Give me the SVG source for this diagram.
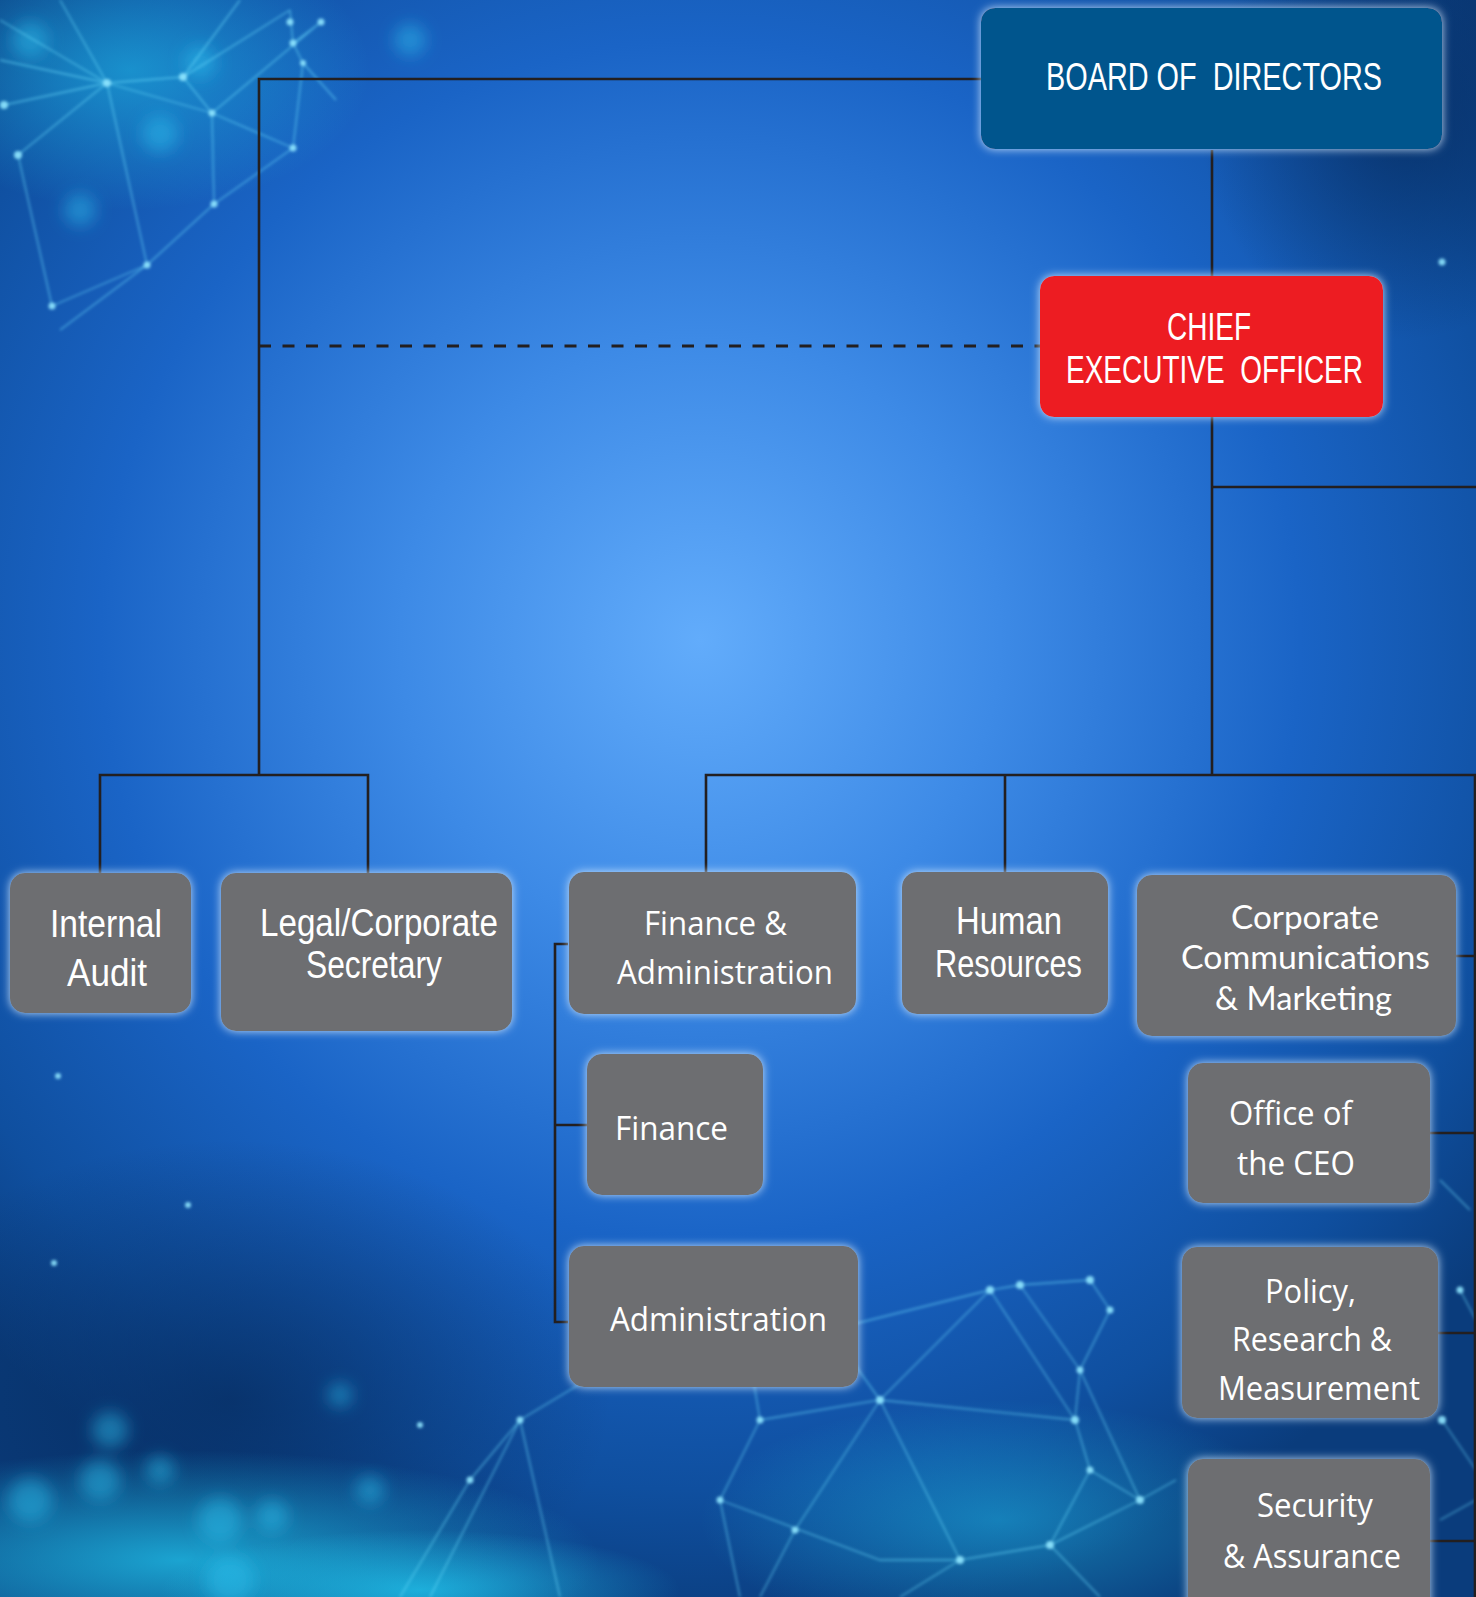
<svg xmlns="http://www.w3.org/2000/svg" width="1476" height="1597" viewBox="0 0 1476 1597">
<defs>
  <radialGradient id="bg" cx="700" cy="640" r="1000" gradientUnits="userSpaceOnUse">
    <stop offset="0" stop-color="#62acfb"/>
    <stop offset="0.3" stop-color="#3d8ae6"/>
    <stop offset="0.6" stop-color="#1a64c6"/>
    <stop offset="0.85" stop-color="#0f4f9f"/>
    <stop offset="1" stop-color="#0a3c7c"/>
  </radialGradient>
  <radialGradient id="cyanGlow" cx="0.5" cy="0.5" r="0.5">
    <stop offset="0" stop-color="#21c8f0" stop-opacity="0.75"/>
    <stop offset="1" stop-color="#21c8f0" stop-opacity="0"/>
  </radialGradient>
  <radialGradient id="darkShade" cx="0.5" cy="0.5" r="0.5">
    <stop offset="0" stop-color="#062a5c" stop-opacity="0.7"/>
    <stop offset="1" stop-color="#062a5c" stop-opacity="0"/>
  </radialGradient>
  <filter id="glow" x="-20%" y="-20%" width="140%" height="140%">
    <feGaussianBlur in="SourceAlpha" stdDeviation="5" result="b"/>
    <feFlood flood-color="#d8ecff" flood-opacity="0.9"/>
    <feComposite in2="b" operator="in" result="g"/>
    <feMerge><feMergeNode in="g"/><feMergeNode in="SourceGraphic"/></feMerge>
  </filter>
  <filter id="soft" x="-50%" y="-50%" width="200%" height="200%">
    <feGaussianBlur stdDeviation="1.5"/>
  </filter>
  <filter id="bokeh" x="-50%" y="-50%" width="200%" height="200%">
    <feGaussianBlur stdDeviation="8"/>
  </filter>
  <style>
    .box{fill:#6d6e71;filter:url(#glow)}
    .board{fill:#03548d;filter:url(#glow)}
    .ceo{fill:#ed1c24;filter:url(#glow)}
    .t{fill:#ffffff;font-family:"Open Sans","Noto Sans","Liberation Sans",sans-serif;font-size:33px}
    .l{fill:#ffffff;font-family:Lato,"Open Sans","Liberation Sans",sans-serif;font-size:32px}
    .n{fill:#ffffff;font-family:"Liberation Sans Narrow","Liberation Sans","DejaVu Sans Condensed",sans-serif;font-size:38px}
    .c{text-anchor:middle}
    .conn{fill:none;stroke:#231f20;stroke-width:2.6}
    .dash{fill:none;stroke:#231f20;stroke-width:2.8;stroke-dasharray:12 11.5}
    .pl{stroke:#6ee0ff;stroke-width:1.3;stroke-opacity:0.6;fill:none}
    .pd{fill:#8fe6ff;fill-opacity:0.9}
    .bk{fill:#2cc6f2;fill-opacity:0.45}
  </style>
</defs>

<!-- background -->
<rect x="0" y="0" width="1476" height="1597" fill="url(#bg)"/>
<ellipse cx="230" cy="1400" rx="380" ry="260" fill="url(#darkShade)"/>
<ellipse cx="1400" cy="120" rx="200" ry="220" fill="url(#darkShade)"/>
<ellipse cx="180" cy="1560" rx="420" ry="110" fill="url(#cyanGlow)"/>
<ellipse cx="420" cy="1590" rx="260" ry="60" fill="url(#cyanGlow)"/>
<ellipse cx="1000" cy="1520" rx="300" ry="120" fill="url(#cyanGlow)" opacity="0.6"/>
<ellipse cx="130" cy="70" rx="240" ry="140" fill="url(#cyanGlow)" opacity="0.7"/>

<g id="bokeh-dots" filter="url(#bokeh)">
  <circle class="bk" cx="30" cy="1500" r="22"/><circle class="bk" cx="100" cy="1480" r="20"/>
  <circle class="bk" cx="220" cy="1520" r="22"/><circle class="bk" cx="110" cy="1430" r="18"/>
  <circle class="bk" cx="160" cy="1470" r="14"/><circle class="bk" cx="272" cy="1516" r="16"/>
  <circle class="bk" cx="230" cy="1580" r="24"/><circle class="bk" cx="160" cy="134" r="18"/>
  <circle class="bk" cx="200" cy="62" r="16"/><circle class="bk" cx="30" cy="40" r="18"/>
  <circle class="bk" cx="80" cy="210" r="16"/><circle class="bk" cx="410" cy="40" r="16"/>
  <circle class="bk" cx="340" cy="1395" r="12"/><circle class="bk" cx="370" cy="1490" r="14"/>
</g>

<g id="plexus" filter="url(#soft)">
  <path class="pl" d="M0,60 L107,83 L183,77 L290,10 M107,83 L212,113 L293,148 M107,83 L18,155 L52,306 M107,83 L147,265 L214,204 L293,148 M183,77 L212,113 L214,204 M290,10 L293,43 L303,63 L293,148 M321,22 L293,43 M336,100 L303,63 M4,105 L107,83 M52,306 L147,265 M0,20 L107,83 M212,113 L321,22 M147,265 L60,330 M183,77 L240,0 M107,83 L60,0"/>
  <g class="pd">
    <circle cx="107" cy="83" r="4"/><circle cx="183" cy="77" r="4"/><circle cx="212" cy="113" r="3.5"/>
    <circle cx="18" cy="155" r="4"/><circle cx="4" cy="105" r="4"/><circle cx="147" cy="265" r="3.5"/>
    <circle cx="290" cy="22" r="3.5"/><circle cx="321" cy="22" r="3.5"/><circle cx="293" cy="43" r="3.5"/>
    <circle cx="303" cy="63" r="3"/><circle cx="293" cy="148" r="3.5"/><circle cx="214" cy="204" r="3.5"/>
    <circle cx="52" cy="306" r="3.5"/><circle cx="1442" cy="262" r="3.5"/><circle cx="58" cy="1076" r="3"/>
    <circle cx="54" cy="1263" r="3"/><circle cx="188" cy="1205" r="3"/>
  </g>
  <path class="pl" d="M400,1597 L470,1480 L520,1420 L620,1360 L680,1330 L745,1320 M520,1420 L430,1597 M520,1420 L560,1597 M745,1330 L760,1420 L720,1500 L740,1597 M760,1420 L880,1400 L990,1290 L1020,1285 L1090,1280 L1110,1310 L1080,1370 L1075,1420 L1090,1470 L1140,1500 M880,1400 L830,1330 L990,1290 M880,1400 L960,1560 L1050,1545 L1140,1500 L1176,1480 M880,1400 L795,1530 L760,1597 M960,1560 L900,1597 M1050,1545 L1100,1597 M1090,1470 L1050,1545 M720,1500 L880,1560 L960,1560 M1020,1285 L1080,1370 L1140,1500 M990,1290 L1075,1420 M880,1400 L1075,1420 M1460,1290 L1476,1320 M1440,1180 L1470,1210 M1442,1420 L1476,1470 M1440,1520 L1476,1500"/>
  <g class="pd">
    <circle cx="990" cy="1290" r="4"/><circle cx="1020" cy="1285" r="4"/><circle cx="1090" cy="1280" r="4"/>
    <circle cx="1110" cy="1310" r="3.5"/><circle cx="1080" cy="1370" r="3.5"/><circle cx="1075" cy="1420" r="4"/>
    <circle cx="1090" cy="1470" r="3.5"/><circle cx="1140" cy="1500" r="4"/><circle cx="880" cy="1400" r="4"/>
    <circle cx="830" cy="1330" r="3"/><circle cx="960" cy="1560" r="4"/><circle cx="1050" cy="1545" r="4"/>
    <circle cx="795" cy="1530" r="3.5"/><circle cx="720" cy="1500" r="3.5"/><circle cx="760" cy="1420" r="3.5"/>
    <circle cx="520" cy="1420" r="3.5"/><circle cx="470" cy="1480" r="3.5"/><circle cx="1460" cy="1290" r="3.5"/>
    <circle cx="1442" cy="1420" r="4"/><circle cx="420" cy="1425" r="3"/><circle cx="680" cy="1330" r="3"/>
  </g>
</g>

<!-- connectors -->
<g id="connectors">
  <path class="conn" d="M981,79 H259 V775"/>
  <path class="conn" d="M100,873 V775 H368 V873"/>
  <path class="conn" d="M1212,150 V276"/>
  <path class="dash" d="M259,346 H1040"/>
  <path class="conn" d="M1212,417 V775"/>
  <path class="conn" d="M1212,487 H1476"/>
  <path class="conn" d="M706,872 V775 H1475 V1597"/>
  <path class="conn" d="M1005,775 V872"/>
  <path class="conn" d="M1456,956 H1475 M1430,1133 H1475 M1437,1333 H1475 M1430,1541 H1475"/>
  <path class="conn" d="M568,944 H555 V1322 H568 M555,1125 H587"/>
</g>

<!-- nodes -->
<g id="board">
  <rect class="board" x="981" y="8" width="461" height="141" rx="14"/>
  <text class="n c" x="1214" y="90" font-size="36" textLength="336" lengthAdjust="spacingAndGlyphs">BOARD OF&#160; DIRECTORS</text>
</g>
<g id="ceo">
  <rect class="ceo" x="1040" y="276" width="343" height="141" rx="14"/>
  <text class="n c" x="1209" y="340" font-size="39" textLength="84" lengthAdjust="spacingAndGlyphs">CHIEF</text>
  <text class="n c" x="1214.5" y="383" font-size="39" textLength="297" lengthAdjust="spacingAndGlyphs">EXECUTIVE&#160; OFFICER</text>
</g>
<g id="internal-audit">
  <rect class="box" x="10" y="873" width="181" height="140" rx="15"/>
  <text class="n" x="50" y="937" font-size="40" textLength="112" lengthAdjust="spacingAndGlyphs">Internal</text>
  <text class="n" x="67" y="986" font-size="40" textLength="80" lengthAdjust="spacingAndGlyphs">Audit</text>
</g>
<g id="legal">
  <rect class="box" x="221" y="873" width="291" height="158" rx="15"/>
  <text class="n" x="260" y="936" font-size="40" textLength="238" lengthAdjust="spacingAndGlyphs">Legal/Corporate</text>
  <text class="n" x="306" y="978" font-size="40" textLength="136" lengthAdjust="spacingAndGlyphs">Secretary</text>
</g>
<g id="finance-admin">
  <rect class="box" x="569" y="872" width="287" height="142" rx="15"/>
  <text class="t" x="644" y="935" textLength="143" lengthAdjust="spacingAndGlyphs">Finance &amp;</text>
  <text class="t" x="617" y="984" textLength="216" lengthAdjust="spacingAndGlyphs">Administration</text>
</g>
<g id="finance">
  <rect class="box" x="587" y="1054" width="176" height="141" rx="15"/>
  <text class="t" x="615" y="1140" textLength="113" lengthAdjust="spacingAndGlyphs">Finance</text>
</g>
<g id="administration">
  <rect class="box" x="569" y="1246" width="289" height="141" rx="15"/>
  <text class="t" x="610" y="1331" textLength="217" lengthAdjust="spacingAndGlyphs">Administration</text>
</g>
<g id="human-resources">
  <rect class="box" x="902" y="872" width="206" height="142" rx="15"/>
  <text class="n" x="956" y="934" font-size="36" textLength="106" lengthAdjust="spacingAndGlyphs">Human</text>
  <text class="n" x="935" y="977" font-size="36" textLength="147" lengthAdjust="spacingAndGlyphs">Resources</text>
</g>
<g id="corp-comm">
  <rect class="box" x="1137" y="875" width="319" height="161" rx="15"/>
  <text class="l" x="1231" y="929" textLength="148" lengthAdjust="spacingAndGlyphs">Corporate</text>
  <text class="l" x="1181" y="969" textLength="249" lengthAdjust="spacingAndGlyphs">Communications</text>
  <text class="l" x="1215" y="1010" textLength="177" lengthAdjust="spacingAndGlyphs">&amp; Marketing</text>
</g>
<g id="office-ceo">
  <rect class="box" x="1188" y="1063" width="242" height="140" rx="15"/>
  <text class="t" x="1229" y="1125" textLength="123" lengthAdjust="spacingAndGlyphs">Office of</text>
  <text class="t" x="1237" y="1175" textLength="118" lengthAdjust="spacingAndGlyphs">the CEO</text>
</g>
<g id="policy">
  <rect class="box" x="1182" y="1247" width="256" height="171" rx="15"/>
  <text class="t" x="1265" y="1303" textLength="91" lengthAdjust="spacingAndGlyphs">Policy,</text>
  <text class="t" x="1232" y="1351" textLength="160" lengthAdjust="spacingAndGlyphs">Research &amp;</text>
  <text class="t" x="1218" y="1400" textLength="202" lengthAdjust="spacingAndGlyphs">Measurement</text>
</g>
<g id="security">
  <rect class="box" x="1188" y="1459" width="242" height="160" rx="15"/>
  <text class="t" x="1257" y="1517" textLength="116" lengthAdjust="spacingAndGlyphs">Security</text>
  <text class="t" x="1223" y="1568" textLength="178" lengthAdjust="spacingAndGlyphs">&amp; Assurance</text>
</g>
</svg>
